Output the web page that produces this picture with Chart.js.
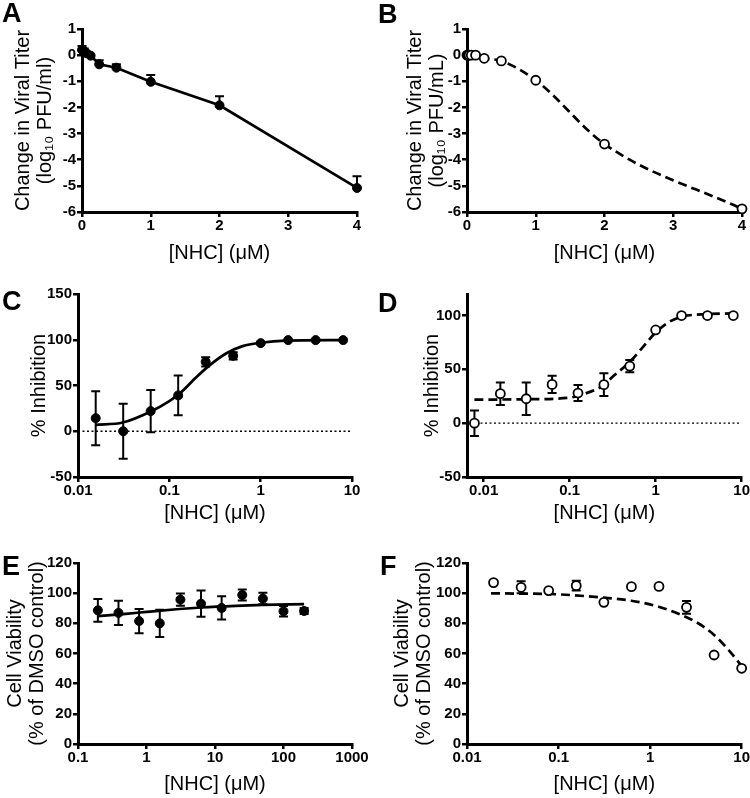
<!DOCTYPE html>
<html>
<head>
<meta charset="utf-8">
<script src="https://cdn.jsdelivr.net/npm/chart.js@4.4.1/dist/chart.umd.min.js"></script>
<style>
body { margin: 0; background: #fff; width: 750px; height: 798px; position: relative; overflow: hidden; }
canvas { position: absolute; }
.lbl { position: absolute; font: bold 27px/1 "Liberation Sans", Arial, sans-serif; color: #000; }
</style>
</head>
<body>
<canvas id="panelA" width="375" height="263" style="left:0;top:0"></canvas>
<canvas id="panelB" width="375" height="263" style="left:375px;top:0"></canvas>
<canvas id="panelC" width="375" height="260" style="left:0;top:263px"></canvas>
<canvas id="panelD" width="375" height="260" style="left:375px;top:263px"></canvas>
<canvas id="panelE" width="375" height="264" style="left:0;top:530px"></canvas>
<canvas id="panelF" width="375" height="264" style="left:375px;top:530px"></canvas>
<div class="lbl" style="left:2px;top:0">A</div>
<div class="lbl" style="left:378px;top:1px">B</div>
<div class="lbl" style="left:2px;top:288px">C</div>
<div class="lbl" style="left:378px;top:290px">D</div>
<div class="lbl" style="left:2px;top:553px">E</div>
<div class="lbl" style="left:380px;top:553px">F</div>
<script>
// A: viral titer change, filled circles, upper error bars only
const doseA = [0, 0.03125, 0.0625, 0.125, 0.25, 0.5, 1, 2, 4]
const titerA = [0.2, 0.15, 0.08, -0.02, -0.35, -0.48, -1.02, -1.92, -5.08]
const titerErrA = [0.15, 0.1, 0.05, 0.05, 0.15, 0.13, 0.26, 0.35, 0.45]

// B: viral titer change, open circles, dashed
const doseB = [0, 0.015625, 0.03125, 0.0625, 0.125, 0.25, 0.5, 1, 2, 4]
const titerB = [0, 0, 0, 0, 0, -0.12, -0.22, -0.96, -3.4, -5.88]

// C: % inhibition + fitted curve
const doseC = [0.015625, 0.03125, 0.0625, 0.125, 0.25, 0.5, 1, 2, 4, 8]
const inhibC = [14.3, 0, 22, 39.2, 75.8, 82.4, 96.3, 99.6, 99.6, 99.6]
const inhibErrC = [29.5, 30, 23, 21.6, 5, 4, 1, 0, 0, 0]
const fitDoseC = [0.0156, 0.031, 0.061, 0.1, 0.129, 0.197, 0.275, 0.418, 0.635, 1, 1.87, 8]
const fitC = [7, 9.5, 21, 33, 41, 59, 72, 85, 93, 96.7, 99, 99.6]

// D: % inhibition + fitted curve (dashed)
const doseD = [0.0078125, 0.015625, 0.03125, 0.0625, 0.125, 0.25, 0.5, 1, 2, 4, 8]
const inhibD = [0, 27.4, 22.7, 36, 28, 35.8, 53, 86.6, 100, 100, 100]
const inhibErrD = [11.8, 10.5, 15, 8, 7.5, 10.6, 5.6, 0, 0, 0, 0]
const fitDoseD = [0.0078, 0.03, 0.1, 0.15, 0.234, 0.33, 0.48, 0.69, 0.98, 1.4, 2, 3.4, 8]
const fitD = [21.8, 22.2, 23.7, 27.4, 34, 44.5, 55.5, 69.5, 83.5, 93.5, 99, 101, 102]

// E: cell viability
const doseE = [0.195, 0.39, 0.78, 1.5625, 3.125, 6.25, 12.5, 25, 50, 100, 200]
const viabE = [88.6, 86.9, 81.5, 80, 95.7, 93, 90.2, 98.8, 96.4, 88, 88.2]
const viabErrE = [7.5, 8, 8, 9, 4, 8.7, 7.7, 3.7, 3.8, 3.5, 2]
const fitDoseE = [0.195, 0.5, 1, 3, 6.25, 20, 50, 200]
const fitE = [84.8, 86.3, 87.6, 89.5, 90.5, 91.6, 92.2, 92.8]

// F: cell viability (dashed fit)
const doseF = [0.0195, 0.039, 0.078, 0.156, 0.3125, 0.625, 1.25, 2.5, 5, 10]
const viabF = [107, 103.9, 101.7, 105, 93.9, 104.3, 104.5, 90.6, 59, 50.2]
const viabErrF = [0, 4, 0, 3.3, 0, 0, 0, 4.2, 0, 0]
const fitDoseF = [0.0183, 0.1, 0.31, 0.62, 1.24, 2.5, 3.6, 5, 7.1, 9.8]
const fitF = [99.9, 99.2, 97, 95, 91, 84, 78.9, 72.3, 62.8, 52.4]

// tick labels
const ticksTiter = [-6, -5, -4, -3, -2, -1, 0, 1]
const ticksDoseLin = [0, 1, 2, 3, 4]
const ticksInhibC = [-50, 0, 50, 100, 150]
const ticksInhibD = [-50, 0, 50, 100]
const ticksViab = [0, 20, 40, 60, 80, 100, 120]
const ticksLog01 = [0.01, 0.1, 1, 10]
const ticksLogE = [0.1, 1, 10, 100, 1000]

const FONT = "'Liberation Sans', Arial, sans-serif"
const xTitle = "[NHC] (\u03bcM)"

const errorBars = {
    id: "errorBars",
    beforeDatasetsDraw(chart) {
        const ctx = chart.ctx
        const xs = chart.scales.x
        const ys = chart.scales.y
        for (const ds of chart.data.datasets) {
            if (!ds.errUp) continue
            ctx.save()
            ctx.strokeStyle = "#000"
            ctx.lineWidth = 2
            ds.data.forEach((p, j) => {
                const up = ds.errUp[j] || 0
                const down = ds.errDown ? ds.errDown[j] || 0 : 0
                if (!up && !down) return
                const x = xs.getPixelForValue(p.x)
                const yt = ys.getPixelForValue(p.y + up)
                const yb = ys.getPixelForValue(p.y - down)
                ctx.beginPath()
                ctx.moveTo(x, yb)
                ctx.lineTo(x, yt)
                if (up) { ctx.moveTo(x - 4.5, yt); ctx.lineTo(x + 4.5, yt) }
                if (down) { ctx.moveTo(x - 4.5, yb); ctx.lineTo(x + 4.5, yb) }
                ctx.stroke()
            })
            ctx.restore()
        }
    }
}

function pts(xs, ys) {
    return xs.map((x, i) => ({ x, y: ys[i] }))
}

function pointSet(xs, ys, open, extra) {
    return Object.assign({
        data: pts(xs, ys),
        showLine: false,
        pointRadius: 4.5,
        pointHoverRadius: 4.5,
        pointBackgroundColor: open ? "#fff" : "#000",
        pointBorderColor: "#000",
        pointBorderWidth: open ? 1.8 : 1,
        borderColor: "#000",
        clip: false
    }, extra || {})
}

function curveSet(xs, ys, dashed) {
    return {
        data: pts(xs, ys),
        showLine: true,
        pointRadius: 0,
        borderColor: "#000",
        borderWidth: 2.7,
        borderDash: dashed ? [9, 5] : [],
        cubicInterpolationMode: "monotone",
        clip: false
    }
}

function zeroLine(min, max) {
    return {
        data: [{ x: min, y: 0 }, { x: max, y: 0 }],
        showLine: true,
        pointRadius: 0,
        borderColor: "#000",
        borderWidth: 1.3,
        borderDash: [2, 2.5]
    }
}

function makePanel(id, p) {
    const canvas = document.getElementById(id)
    const W = canvas.width
    const H = canvas.height
    const tickFont = { family: FONT, size: 15, weight: "bold" }
    const grid = { display: true, drawOnChartArea: false, drawTicks: true, tickLength: 5, color: "#000", lineWidth: 2.5 }
    const border = { display: true, color: "#000", width: 3 }
    new Chart(canvas, {
        type: "scatter",
        data: { datasets: p.datasets },
        options: {
            responsive: false,
            animation: false,
            events: [],
            layout: { padding: { left: 0, top: p.top, right: W - p.right, bottom: 0 } },
            plugins: { legend: { display: false }, tooltip: { enabled: false } },
            scales: {
                x: {
                    type: p.xType,
                    min: p.xMin,
                    max: p.xMax,
                    afterFit: (s) => { s.height = H - p.bottom },
                    afterBuildTicks: (s) => { s.ticks = p.xTicks.map((v) => ({ value: v })) },
                    ticks: { font: tickFont, color: "#000", padding: 0, maxRotation: 0, autoSkip: false, callback: (v) => String(v) },
                    grid,
                    border,
                    title: { display: true, text: xTitle, color: "#000", font: { family: FONT, size: 20, lineHeight: 1 }, padding: 0 }
                },
                y: {
                    type: "linear",
                    min: p.yMin,
                    max: p.yMax,
                    afterFit: (s) => { s.width = p.left },
                    afterBuildTicks: (s) => { s.ticks = p.yTicks.map((v) => ({ value: v })) },
                    ticks: { font: tickFont, color: "#000", padding: 1, callback: (v) => String(v) },
                    grid,
                    border,
                    title: { display: true, text: p.yTitle, color: "#000", font: { family: FONT, size: 20, lineHeight: 1.1 }, padding: { top: p.yTitlePad, bottom: 0 } }
                }
            }
        },
        plugins: [errorBars]
    })
}

makePanel("panelA", {
    left: 82, right: 357, top: 29, bottom: 212,
    xType: "linear", xMin: 0, xMax: 4, xTicks: ticksDoseLin,
    yMin: -6, yMax: 1, yTicks: ticksTiter,
    yTitle: ["Change in Viral Titer", "(log\u2081\u2080 PFU/ml)"], yTitlePad: 12,
    datasets: [pointSet(doseA, titerA, false, { showLine: true, borderWidth: 2.7, errUp: titerErrA })]
})

makePanel("panelB", {
    left: 92, right: 367, top: 29, bottom: 212,
    xType: "linear", xMin: 0, xMax: 4, xTicks: ticksDoseLin,
    yMin: -6, yMax: 1, yTicks: ticksTiter,
    yTitle: ["Change in Viral Titer", "(log\u2081\u2080 PFU/mL)"], yTitlePad: 29,
    datasets: [pointSet(doseB, titerB, true, { showLine: true, borderWidth: 2.7, borderDash: [9, 5], cubicInterpolationMode: "monotone" })]
})

makePanel("panelC", {
    left: 78, right: 352, top: 31, bottom: 214,
    xType: "logarithmic", xMin: 0.01, xMax: 10, xTicks: ticksLog01,
    yMin: -50, yMax: 150, yTicks: ticksInhibC,
    yTitle: "% Inhibition", yTitlePad: 28,
    datasets: [
        pointSet(doseC, inhibC, false, { errUp: inhibErrC, errDown: inhibErrC }),
        curveSet(fitDoseC, fitC, false),
        zeroLine(0.01, 10)
    ]
})

makePanel("panelD", {
    left: 92, right: 367, top: 31, bottom: 214,
    xType: "logarithmic", xMin: 0.0064, xMax: 10, xTicks: ticksLog01,
    yMin: -50, yMax: 120, yTicks: ticksInhibD,
    yTitle: "% Inhibition", yTitlePad: 46,
    datasets: [
        pointSet(doseD, inhibD, true, { errUp: inhibErrD, errDown: inhibErrD }),
        curveSet(fitDoseD, fitD, true),
        zeroLine(0.0064, 10)
    ]
})

makePanel("panelE", {
    left: 78, right: 352, top: 33, bottom: 214,
    xType: "logarithmic", xMin: 0.1, xMax: 1000, xTicks: ticksLogE,
    yMin: 0, yMax: 120, yTicks: ticksViab,
    yTitle: ["Cell Viability", "(% of DMSO control)"], yTitlePad: 4,
    datasets: [
        pointSet(doseE, viabE, false, { errUp: viabErrE, errDown: viabErrE }),
        curveSet(fitDoseE, fitE, false)
    ]
})

makePanel("panelF", {
    left: 92, right: 367, top: 33, bottom: 214,
    xType: "logarithmic", xMin: 0.01, xMax: 10, xTicks: ticksLog01,
    yMin: 0, yMax: 120, yTicks: ticksViab,
    yTitle: ["Cell Viability", "(% of DMSO control)"], yTitlePad: 16,
    datasets: [
        pointSet(doseF, viabF, true, { errUp: viabErrF, errDown: viabErrF }),
        curveSet(fitDoseF, fitF, true)
    ]
})
</script>
</body>
</html>
